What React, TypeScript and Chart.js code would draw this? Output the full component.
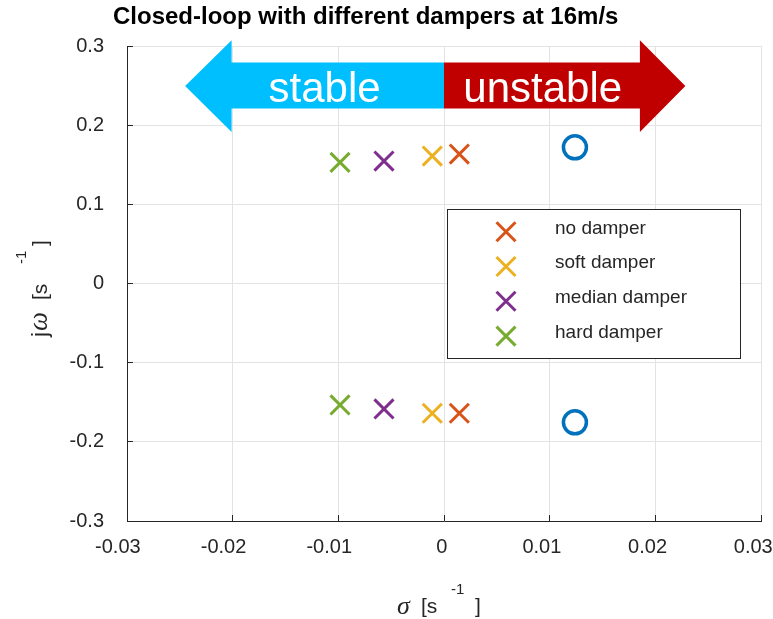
import React, { useEffect, useRef } from "react";
import { Chart, registerables } from "chart.js";

Chart.register(...registerables);

// ---------- data ----------
const titleText = "Closed-loop with different dampers at 16m/s";
const seriesNames = ["no damper", "soft damper", "median damper", "hard damper"];
const seriesColors = ["#D95319", "#EDB120", "#7E2F8E", "#77AC30"];
const noDamperX = [0.00145, 0.00145];
const noDamperY = [0.1635, -0.1639];
const softDamperX = [-0.00111, -0.00111];
const softDamperY = [0.161, -0.1639];
const medianDamperX = [-0.00568, -0.00568];
const medianDamperY = [0.1547, -0.1585];
const hardDamperX = [-0.00984, -0.00984];
const hardDamperY = [0.153, -0.1534];
const openLoopX = [0.01239, 0.01239];
const openLoopY = [0.172, -0.1753];
const openLoopColor = "#0072BD";

const xMin = -0.03;
const xMax = 0.03;
const xStep = 0.01;
const yMin = -0.3;
const yMax = 0.3;
const yStep = 0.1;

// annotation arrows (data coordinates)
const stableArrowX = [-0.0245, -0.0201, -0.0201, 0, 0, -0.0201, -0.0201];
const stableArrowY = [0.2494, 0.3074, 0.2793, 0.2793, 0.2212, 0.2212, 0.1913];
const unstableArrowX = [0, 0.01854, 0.01854, 0.02284, 0.01854, 0.01854, 0];
const unstableArrowY = [0.2793, 0.2793, 0.3074, 0.2494, 0.1913, 0.2212, 0.2212];
const stableColor = "#00BFFF";
const unstableColor = "#C00000";
const stableLabel = "stable";
const unstableLabel = "unstable";
const stableLabelPos = [-0.0113, 0.2296];
const unstableLabelPos = [0.00934, 0.2296];

const SANS = '"Liberation Sans", Arial, Helvetica, sans-serif';
const SERIF = '"Liberation Serif", "Times New Roman", serif';
const AXIS_COLOR = "#262626";
const TICK_FONT = 20;

function toPoints(xs: number[], ys: number[]) {
  return xs.map((x, i) => ({ x, y: ys[i] }));
}

function fmtX(v: number) {
  return String(Number(Number(v).toFixed(2)));
}
function fmtY(v: number) {
  return String(Number(Number(v).toFixed(1)));
}

function drawX(ctx: CanvasRenderingContext2D, cx: number, cy: number, half: number, color: string, lw: number) {
  ctx.save();
  ctx.strokeStyle = color;
  ctx.lineWidth = lw;
  ctx.beginPath();
  ctx.moveTo(cx - half, cy - half);
  ctx.lineTo(cx + half, cy + half);
  ctx.moveTo(cx + half, cy - half);
  ctx.lineTo(cx - half, cy + half);
  ctx.stroke();
  ctx.restore();
}

const overlayPlugin = {
  id: "overlay",
  beforeDatasetsDraw(chart: any) {
    const { ctx, chartArea } = chart;
    const xs = chart.scales.x;
    const ys = chart.scales.y;
    ctx.save();
    // inward tick marks
    ctx.strokeStyle = AXIS_COLOR;
    ctx.lineWidth = 1;
    xs.ticks.forEach((t: any) => {
      const p = Math.round(xs.getPixelForValue(t.value) - 0.5) + 0.5;
      ctx.beginPath();
      ctx.moveTo(p, chartArea.bottom);
      ctx.lineTo(p, chartArea.bottom - 6);
      ctx.stroke();
    });
    ys.ticks.forEach((t: any) => {
      const p = Math.round(ys.getPixelForValue(t.value) - 0.5) + 0.5;
      ctx.beginPath();
      ctx.moveTo(chartArea.left, p);
      ctx.lineTo(chartArea.left + 6, p);
      ctx.stroke();
    });
    // x tick labels (slightly left-shifted like the reference)
    ctx.fillStyle = AXIS_COLOR;
    ctx.font = `${TICK_FONT}px ${SANS}`;
    ctx.textAlign = "left";
    ctx.textBaseline = "alphabetic";
    xs.ticks.forEach((t: any) => {
      const txt = fmtX(t.value);
      const w = ctx.measureText(txt).width;
      ctx.fillText(txt, xs.getPixelForValue(t.value) - 0.7 * w, chartArea.bottom + 32);
    });
    // arrows
    const poly = (px: number[], py: number[], color: string) => {
      ctx.beginPath();
      px.forEach((v, i) => {
        const X = xs.getPixelForValue(v);
        const Y = ys.getPixelForValue(py[i]);
        if (i === 0) ctx.moveTo(X, Y);
        else ctx.lineTo(X, Y);
      });
      ctx.closePath();
      ctx.fillStyle = color;
      ctx.fill();
    };
    poly(stableArrowX, stableArrowY, stableColor);
    poly(unstableArrowX, unstableArrowY, unstableColor);
    ctx.fillStyle = "#ffffff";
    ctx.font = `42px ${SANS}`;
    ctx.textAlign = "center";
    ctx.textBaseline = "alphabetic";
    ctx.fillText(stableLabel, xs.getPixelForValue(stableLabelPos[0]), ys.getPixelForValue(stableLabelPos[1]));
    ctx.fillText(unstableLabel, xs.getPixelForValue(unstableLabelPos[0]), ys.getPixelForValue(unstableLabelPos[1]));
    ctx.restore();
  },
  afterDatasetsDraw(chart: any) {
    const { ctx } = chart;
    // legend box
    const bx = 447, by = 209, bw = 293, bh = 149;
    ctx.save();
    ctx.fillStyle = "#ffffff";
    ctx.fillRect(bx, by, bw, bh);
    ctx.strokeStyle = AXIS_COLOR;
    ctx.lineWidth = 1;
    ctx.strokeRect(bx + 0.5, by + 0.5, bw, bh);
    ctx.font = `19px ${SANS}`;
    ctx.textAlign = "left";
    ctx.textBaseline = "alphabetic";
    seriesNames.forEach((name, i) => {
      const rowY = 231.7 + i * 34.8;
      drawX(ctx, 506, rowY, 9.5, seriesColors[i], 3);
      ctx.fillStyle = AXIS_COLOR;
      ctx.fillText(name, 555, rowY + 1.8);
    });
    ctx.restore();
  },
  afterDraw(chart: any) {
    const { ctx } = chart;
    ctx.save();
    ctx.fillStyle = "#000000";
    ctx.textBaseline = "alphabetic";
    ctx.textAlign = "left";
    // title
    ctx.font = `bold 24px ${SANS}`;
    ctx.fillText(titleText, 113, 24);
    // x label
    ctx.fillStyle = AXIS_COLOR;
    ctx.font = `italic 26px ${SERIF}`;
    ctx.fillText("σ", 397, 614);
    ctx.font = `21px ${SANS}`;
    ctx.fillText("[s", 421, 613);
    ctx.fillText("]", 475, 613);
    ctx.font = `15px ${SANS}`;
    ctx.fillText("-1", 451, 594);
    // y label
    ctx.translate(47, 337);
    ctx.rotate(-Math.PI / 2);
    ctx.font = `22px ${SANS}`;
    ctx.fillText("j", 0, 0);
    ctx.font = `italic 27px ${SERIF}`;
    ctx.fillText("ω", 6, 0);
    ctx.font = `21px ${SANS}`;
    ctx.fillText("[s", 37, 0);
    ctx.fillText("]", 91, 0);
    ctx.font = `15px ${SANS}`;
    ctx.fillText("-1", 73, -21);
    ctx.restore();
  },
};

export default function App() {
  const canvasRef = useRef<HTMLCanvasElement | null>(null);

  useEffect(() => {
    const canvas = canvasRef.current;
    if (!canvas) return;
    const xDataSets = [noDamperX, softDamperX, medianDamperX, hardDamperX];
    const yDataSets = [noDamperY, softDamperY, medianDamperY, hardDamperY];
    const datasets: any[] = [
      {
        label: "open loop",
        data: toPoints(openLoopX, openLoopY),
        pointStyle: "circle",
        radius: 11.5,
        borderWidth: 3.5,
        borderColor: openLoopColor,
        backgroundColor: "rgba(0,0,0,0)",
        showLine: false,
      },
      ...seriesNames.map((name, i) => ({
        label: name,
        data: toPoints(xDataSets[i], yDataSets[i]),
        pointStyle: "crossRot",
        radius: 13.5,
        borderWidth: 3,
        borderColor: seriesColors[i],
        backgroundColor: seriesColors[i],
        showLine: false,
      })),
    ];

    const chart = new Chart(canvas, {
      type: "scatter",
      data: { datasets },
      options: {
        animation: false,
        responsive: false,
        devicePixelRatio: 1,
        events: [],
        layout: { autoPadding: false, padding: { top: 46, right: 12, left: 0, bottom: 0 } },
        plugins: {
          legend: { display: false },
          title: { display: false },
          tooltip: { enabled: false },
        },
        scales: {
          x: {
            type: "linear",
            min: xMin,
            max: xMax,
            afterFit: (s: any) => {
              s.height = 98;
              s.paddingLeft = 0;
              s.paddingRight = 0;
            },
            ticks: {
              display: false,
              stepSize: xStep,
            },
            grid: { color: "#e3e3e3", lineWidth: 1, drawTicks: false },
            border: { display: true, color: AXIS_COLOR, width: 1 },
          },
          y: {
            type: "linear",
            min: yMin,
            max: yMax,
            afterFit: (s: any) => {
              s.width = 127;
              s.paddingTop = 0;
              s.paddingBottom = 0;
            },
            ticks: {
              stepSize: yStep,
              padding: 23,
              color: AXIS_COLOR,
              font: { family: SANS, size: TICK_FONT },
              callback: (v: any) => fmtY(v),
            },
            grid: { color: "#e3e3e3", lineWidth: 1, drawTicks: false },
            border: { display: true, color: AXIS_COLOR, width: 1 },
          },
        },
      } as any,
      plugins: [overlayPlugin],
    });
    return () => chart.destroy();
  }, []);

  return (
    <div style={{ position: "absolute", left: 0, top: 0, width: 773, height: 619, background: "#ffffff" }}>
      <canvas ref={canvasRef} width={773} height={619} style={{ width: 773, height: 619, display: "block" }} />
    </div>
  );
}
